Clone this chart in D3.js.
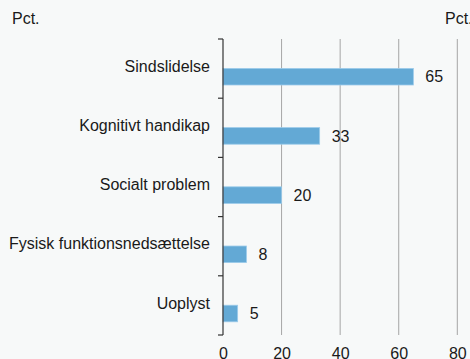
<!DOCTYPE html>
<html><head><meta charset="utf-8">
<script src="https://cdn.jsdelivr.net/npm/d3@7"></script>
<style>
html,body{margin:0;padding:0;background:#f7f9f9;}
svg{display:block;font-family:"Liberation Sans",Arial,sans-serif;}
</style></head><body>
<svg id="c" width="470" height="359"></svg>
<script>
const categories = ["Sindslidelse","Kognitivt handikap","Socialt problem","Fysisk funktionsnedsættelse","Uoplyst"];
const values = [65,33,20,8,5];
const xTicks = [0,20,40,60,80];
const unitLabel = "Pct.";

const svg = d3.select("#c");
const W = 470, H = 359;
svg.append("rect").attr("width",W).attr("height",H).attr("fill","#f7f9f9");

const x = d3.scaleLinear().domain([0,80]).range([223,457.3]);
const y = d3.scaleBand().domain(categories).range([39,335]).padding(0);
const bw = y.bandwidth();

// gridlines
svg.append("g").selectAll("line").data(xTicks.filter(d=>d>0)).join("line")
  .attr("x1",d=>x(d)).attr("x2",d=>x(d)).attr("y1",39).attr("y2",335)
  .attr("stroke","#a6a6a6").attr("stroke-width",1);

// bars
svg.append("g").selectAll("rect").data(values).join("rect")
  .attr("x",x(0)).attr("y",(d,i)=>y(categories[i])+bw*0.497)
  .attr("width",d=>x(d)-x(0)).attr("height",bw*0.28)
  .attr("fill","#63a9d5").attr("stroke","#9ccbea").attr("stroke-width",0.8);

// value labels
svg.append("g").selectAll("text").data(values).join("text")
  .attr("x",d=>x(d)+12).attr("y",(d,i)=>y(categories[i])+bw*0.637)
  .attr("dy","0.35em").attr("font-size",16).attr("fill","#1a1a1a")
  .text(d=>d);

// y axis
const yAxis = d3.axisLeft(y).tickSize(0).tickPadding(13);
const yg = svg.append("g").attr("transform",`translate(${x(0)},0)`).call(yAxis);
yg.select(".domain").remove();
yg.selectAll("text").attr("font-size",16).attr("fill","#1a1a1a")
  .attr("font-family","Liberation Sans, Arial, sans-serif").attr("dy","0.2em");
// axis line + band boundary ticks
svg.append("line").attr("x1",x(0)).attr("x2",x(0)).attr("y1",39).attr("y2",335)
  .attr("stroke","#333").attr("stroke-width",1.2);
const bounds = categories.map(c=>y(c)).concat([y(categories[categories.length-1])+bw]);
svg.append("g").selectAll("line").data(bounds).join("line")
  .attr("x1",x(0)-5).attr("x2",x(0)).attr("y1",d=>d).attr("y2",d=>d)
  .attr("stroke","#333").attr("stroke-width",1.2);

// x axis labels
const xAxis = d3.axisBottom(x).tickValues(xTicks).tickSize(0).tickPadding(13);
const xg = svg.append("g").attr("transform","translate(0,335)").call(xAxis);
xg.select(".domain").remove();
xg.selectAll("text").attr("font-size",16).attr("fill","#1a1a1a")
  .attr("font-family","Liberation Sans, Arial, sans-serif");

// unit labels
svg.append("text").attr("x",12).attr("y",24).attr("font-size",16).attr("fill","#1a1a1a").text(unitLabel);
svg.append("text").attr("x",445).attr("y",24).attr("font-size",16).attr("fill","#1a1a1a").text(unitLabel);
</script></body></html>
